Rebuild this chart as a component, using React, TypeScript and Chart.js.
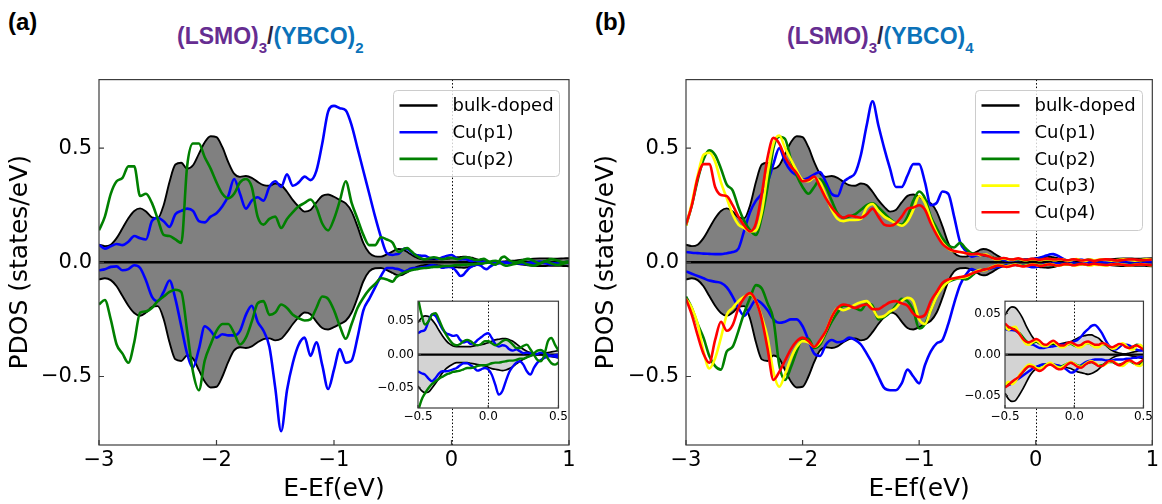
import React, { useEffect, useRef } from "react";
import { Chart, registerables } from "chart.js";
Chart.register(...registerables);

const FONT = "'DejaVu Sans', sans-serif";
const TITLE_FONT = "'Liberation Sans', Arial, sans-serif";
const PURPLE = "#662d91";
const TBLUE = "#0b72b9";

// ---- energy grids (eV) ----
const grid = (start: number, step: number, n: number) =>
  Array.from({ length: n }, (_, i) => Math.round((start + i * step) * 1000) / 1000);
const E_MAIN = grid(-3, 0.05, 50); // -3.00 .. -0.55
const E_INSET = grid(-0.5, 0.025, 41); // -0.50 .. 0.50
const E_TAIL = grid(0.55, 0.05, 10); // 0.55 .. 1.00

// ---- tick values ----
const X_TICKS_MAIN = [-3, -2, -1, 0, 1];
const Y_TICKS_MAIN = [-0.5, 0, 0.5];
const X_TICKS_INSET = [-0.5, 0, 0.5];
const Y_TICKS_INSET = [-0.05, 0, 0.05];

// ---- bulk-doped (shared by both panels) ----
const BULK_UP = [0.077, 0.071, 0.077, 0.106, 0.149, 0.193, 0.225, 0.236, 0.222, 0.197,
  0.193, 0.25, 0.352, 0.428, 0.436, 0.41, 0.425, 0.475, 0.526, 0.552,
  0.548, 0.504, 0.439, 0.388, 0.374, 0.378, 0.37, 0.352, 0.338, 0.335,
  0.345, 0.338, 0.309, 0.272, 0.243, 0.222, 0.229, 0.262, 0.291, 0.297,
  0.287, 0.272, 0.258, 0.222, 0.157, 0.084, 0.041, 0.026, 0.025, 0.035];
const BULK_DN = [-0.075, -0.07, -0.078, -0.105, -0.148, -0.19, -0.222, -0.234, -0.22, -0.196,
  -0.192, -0.248, -0.35, -0.425, -0.432, -0.408, -0.422, -0.472, -0.522, -0.548,
  -0.545, -0.5, -0.436, -0.386, -0.372, -0.375, -0.368, -0.35, -0.336, -0.333,
  -0.342, -0.335, -0.306, -0.27, -0.24, -0.22, -0.227, -0.26, -0.288, -0.294,
  -0.284, -0.27, -0.256, -0.22, -0.155, -0.083, -0.04, -0.026, -0.025, -0.034];
const BULK_UP_INS = [0.048, 0.055, 0.058, 0.057, 0.052, 0.045, 0.036, 0.028, 0.021, 0.016,
  0.013, 0.012, 0.012, 0.012, 0.012, 0.012, 0.013, 0.014, 0.015, 0.016,
  0.018, 0.02, 0.022, 0.023, 0.024, 0.024, 0.022, 0.02, 0.016, 0.012,
  0.008, 0.005, 0.003, 0.002, 0.001, 0.001, 0.002, 0.003, 0.004, 0.005, 0.006];
const BULK_DN_INS = [-0.047, -0.054, -0.057, -0.056, -0.05, -0.043, -0.035, -0.027, -0.021, -0.017,
  -0.014, -0.012, -0.012, -0.012, -0.012, -0.013, -0.014, -0.015, -0.016, -0.017,
  -0.019, -0.021, -0.022, -0.023, -0.024, -0.023, -0.021, -0.018, -0.014, -0.01,
  -0.007, -0.004, -0.002, -0.001, 0.0, 0.0, -0.001, -0.002, -0.003, -0.004, -0.005];
const BULK_UP_TAIL = [0.008, 0.011, 0.014, 0.016, 0.017, 0.017, 0.016, 0.016, 0.017, 0.018];
const BULK_DN_TAIL = [-0.007, -0.01, -0.013, -0.015, -0.016, -0.016, -0.015, -0.015, -0.016, -0.017];

// ---- panel (a): Cu(p1) ----
const A_P1_UP = [0.077, 0.06, 0.07, 0.08, 0.075, 0.09, 0.115, 0.105, 0.1, 0.18,
  0.195, 0.18, 0.155, 0.21, 0.225, 0.235, 0.225, 0.18, 0.175, 0.2,
  0.215, 0.245, 0.29, 0.365, 0.3, 0.235, 0.27, 0.285, 0.27, 0.33,
  0.355, 0.33, 0.385, 0.335, 0.35, 0.375, 0.36, 0.4, 0.52, 0.66,
  0.685, 0.675, 0.665, 0.6, 0.5, 0.4, 0.3, 0.2, 0.11, 0.04];
const A_P1_DN = [-0.035, -0.03, -0.02, -0.018, -0.035, -0.03, -0.013, -0.025, -0.08, -0.15,
  -0.17, -0.13, -0.08, -0.16, -0.28, -0.4, -0.46, -0.38, -0.28, -0.3,
  -0.33, -0.315, -0.32, -0.32, -0.3, -0.23, -0.19, -0.26, -0.3, -0.37,
  -0.55, -0.74, -0.56, -0.44, -0.36, -0.33, -0.41, -0.35, -0.45, -0.555,
  -0.47, -0.38, -0.44, -0.43, -0.33, -0.21, -0.16, -0.11, -0.06, -0.025];
const A_P1_UP_INS = [0.032, 0.035, 0.037, 0.05, 0.06, 0.058, 0.048, 0.038, 0.032, 0.03,
  0.028, 0.029, 0.022, 0.018, 0.02, 0.016, 0.017, 0.022, 0.026, 0.03,
  0.032, 0.025, 0.016, 0.012, 0.014, 0.013, 0.008, 0.006, 0.008, 0.005,
  0.002, 0.003, 0.002, 0.0, 0.001, 0.003, 0.002, 0.0, -0.002, -0.003, -0.004];
const A_P1_DN_INS = [-0.025, -0.028, -0.03, -0.036, -0.04, -0.035, -0.028, -0.025, -0.025, -0.024,
  -0.022, -0.02, -0.016, -0.013, -0.013, -0.016, -0.02, -0.024, -0.022, -0.02,
  -0.022, -0.03, -0.045, -0.06, -0.055, -0.04, -0.026, -0.018, -0.012, -0.01,
  -0.015, -0.025, -0.03, -0.02, -0.012, -0.008, -0.005, -0.003, -0.002, -0.001, 0.0];
const A_P1_UP_TAIL = [-0.004, -0.006, -0.003, 0.001, 0.003, 0.001, -0.003, -0.005, -0.001, 0.003];
const A_P1_DN_TAIL = [0.0, -0.004, -0.009, -0.006, -0.002, -0.004, -0.009, -0.006, -0.002, -0.003];

// ---- panel (a): Cu(p2) ----
const A_P2_UP = [0.14, 0.2, 0.3, 0.355, 0.37, 0.42, 0.42, 0.29, 0.3, 0.26,
  0.19, 0.12, 0.115, 0.1, 0.085, 0.42, 0.52, 0.52, 0.46, 0.41,
  0.35, 0.3, 0.28, 0.3, 0.35, 0.365, 0.33, 0.2, 0.165, 0.19,
  0.2, 0.15, 0.19, 0.22, 0.245, 0.26, 0.275, 0.24, 0.17, 0.14,
  0.19, 0.27, 0.355, 0.26, 0.19, 0.12, 0.075, 0.075, 0.11, 0.1];
const A_P2_DN = [-0.185, -0.165, -0.25, -0.36, -0.4, -0.44, -0.35, -0.22, -0.215, -0.2,
  -0.17, -0.15, -0.13, -0.12, -0.13, -0.3, -0.48, -0.56, -0.43, -0.36,
  -0.3, -0.27, -0.27, -0.31, -0.36, -0.33, -0.26, -0.18, -0.17, -0.23,
  -0.22, -0.185, -0.2, -0.23, -0.245, -0.255, -0.25, -0.2, -0.15, -0.16,
  -0.21, -0.28, -0.335, -0.27, -0.2, -0.155, -0.12, -0.095, -0.07, -0.075];
const A_P2_UP_INS = [0.085, 0.06, 0.045, 0.05, 0.06, 0.062, 0.052, 0.04, 0.03, 0.022,
  0.016, 0.014, 0.016, 0.02, 0.022, 0.02, 0.016, 0.014, 0.016, 0.02,
  0.02, 0.017, 0.014, 0.016, 0.02, 0.022, 0.02, 0.015, 0.01, 0.01,
  0.013, 0.015, 0.008, 0.0, -0.008, -0.01, 0.0, 0.02, 0.025, 0.015, 0.006];
const A_P2_DN_INS = [-0.085, -0.068, -0.058, -0.05, -0.044, -0.04, -0.036, -0.033, -0.03, -0.028,
  -0.026, -0.025, -0.024, -0.022, -0.02, -0.02, -0.019, -0.017, -0.016, -0.016,
  -0.015, -0.013, -0.012, -0.012, -0.011, -0.01, -0.009, -0.009, -0.008, -0.006,
  -0.006, -0.004, -0.002, 0.002, 0.006, 0.007, 0.003, -0.006, -0.013, -0.015, -0.012];
const A_P2_UP_TAIL = [0.0, 0.008, 0.015, 0.006, -0.004, 0.005, 0.014, 0.008, 0.0, 0.005];
const A_P2_DN_TAIL = [-0.006, 0.0, -0.01, -0.015, -0.006, 0.004, -0.005, -0.012, -0.006, 0.0];

// ---- panel (b): Cu(p1) ----
const B_P1_UP = [0.045, 0.042, 0.04, 0.038, 0.037, 0.036, 0.036, 0.04, 0.045, 0.06,
  0.14, 0.22, 0.27, 0.3, 0.35, 0.43, 0.5, 0.44, 0.4, 0.38,
  0.36, 0.37, 0.385, 0.395, 0.35, 0.3, 0.29, 0.35, 0.37, 0.39,
  0.47, 0.6, 0.705, 0.6, 0.5, 0.41, 0.33, 0.33, 0.38, 0.43,
  0.43, 0.35, 0.25, 0.26, 0.31, 0.3, 0.2, 0.09, 0.05, 0.025];
const B_P1_DN = [-0.04, -0.05, -0.06, -0.07, -0.08, -0.085, -0.09, -0.11, -0.15, -0.2,
  -0.235, -0.2, -0.165, -0.18, -0.21, -0.25, -0.265, -0.26, -0.25, -0.25,
  -0.28, -0.34, -0.4, -0.41, -0.36, -0.34, -0.35, -0.345, -0.33, -0.34,
  -0.36, -0.4, -0.445, -0.5, -0.55, -0.56, -0.56, -0.53, -0.47, -0.5,
  -0.53, -0.45, -0.39, -0.355, -0.34, -0.27, -0.18, -0.1, -0.055, -0.03];
const B_P1_UP_INS = [0.031, 0.03, 0.03, 0.029, 0.026, 0.021, 0.016, 0.013, 0.012, 0.01,
  0.008, 0.008, 0.009, 0.0095, 0.01, 0.011, 0.012, 0.012, 0.013, 0.014,
  0.016, 0.018, 0.022, 0.027, 0.031, 0.035, 0.036, 0.032, 0.026, 0.018,
  0.011, 0.007, 0.006, 0.009, 0.012, 0.012, 0.011, 0.008, 0.006, 0.005, 0.005];
const B_P1_DN_INS = [-0.038, -0.037, -0.035, -0.032, -0.029, -0.026, -0.023, -0.02, -0.017, -0.015,
  -0.013, -0.012, -0.012, -0.012, -0.012, -0.013, -0.014, -0.016, -0.019, -0.022,
  -0.021, -0.017, -0.013, -0.01, -0.008, -0.007, -0.006, -0.006, -0.006, -0.007,
  -0.007, -0.007, -0.006, -0.006, -0.006, -0.005, -0.005, -0.004, -0.004, -0.003, -0.003];
const B_P1_UP_TAIL = [0.005, 0.006, 0.006, 0.005, 0.006, 0.007, 0.006, 0.005, 0.006, 0.006];
const B_P1_DN_TAIL = [-0.003, -0.004, -0.005, -0.004, -0.005, -0.006, -0.005, -0.004, -0.005, -0.006];

// ---- panel (b): Cu(p2) ----
const B_P2_UP = [0.16, 0.25, 0.36, 0.45, 0.49, 0.47, 0.41, 0.34, 0.315, 0.24,
  0.18, 0.14, 0.12, 0.2, 0.33, 0.5, 0.55, 0.54, 0.45, 0.38,
  0.33, 0.3, 0.33, 0.365, 0.33, 0.27, 0.215, 0.195, 0.2, 0.21,
  0.23, 0.25, 0.258, 0.24, 0.215, 0.19, 0.17, 0.165, 0.2, 0.27,
  0.31, 0.28, 0.2, 0.15, 0.105, 0.075, 0.065, 0.085, 0.06, 0.04];
const B_P2_DN = [-0.15, -0.2, -0.27, -0.33, -0.41, -0.455, -0.47, -0.39, -0.37, -0.3,
  -0.22, -0.155, -0.1, -0.115, -0.18, -0.25, -0.45, -0.515, -0.46, -0.39,
  -0.335, -0.335, -0.375, -0.36, -0.31, -0.26, -0.22, -0.19, -0.19, -0.2,
  -0.21, -0.18, -0.19, -0.25, -0.24, -0.22, -0.19, -0.16, -0.17, -0.21,
  -0.29, -0.27, -0.21, -0.15, -0.1, -0.085, -0.075, -0.07, -0.075, -0.06];
const B_P2_UP_INS = [0.036, 0.033, 0.032, 0.03, 0.027, 0.022, 0.017, 0.014, 0.014, 0.016,
  0.015, 0.012, 0.011, 0.013, 0.014, 0.012, 0.01, 0.01, 0.012, 0.013,
  0.011, 0.01, 0.011, 0.013, 0.014, 0.012, 0.01, 0.011, 0.013, 0.012,
  0.009, 0.008, 0.01, 0.012, 0.013, 0.01, 0.008, 0.009, 0.012, 0.011, 0.007];
const B_P2_DN_INS = [-0.039, -0.036, -0.034, -0.031, -0.027, -0.022, -0.017, -0.014, -0.014, -0.016,
  -0.017, -0.015, -0.012, -0.011, -0.013, -0.015, -0.015, -0.013, -0.011, -0.01,
  -0.011, -0.013, -0.014, -0.012, -0.01, -0.009, -0.011, -0.013, -0.013, -0.011,
  -0.009, -0.009, -0.011, -0.012, -0.011, -0.009, -0.008, -0.01, -0.012, -0.011, -0.008];
const B_P2_UP_TAIL = [0.01, 0.012, 0.009, 0.008, 0.011, 0.012, 0.009, 0.008, 0.011, 0.012];
const B_P2_DN_TAIL = [-0.01, -0.012, -0.009, -0.008, -0.011, -0.012, -0.009, -0.008, -0.011, -0.012];

// ---- panel (b): Cu(p3) ----
const B_P3_UP = [0.16, 0.26, 0.38, 0.47, 0.48, 0.44, 0.35, 0.28, 0.21, 0.165,
  0.15, 0.135, 0.14, 0.22, 0.39, 0.52, 0.555, 0.5, 0.45, 0.4,
  0.36, 0.355, 0.37, 0.35, 0.29, 0.23, 0.19, 0.18, 0.185, 0.185,
  0.19, 0.24, 0.255, 0.225, 0.2, 0.185, 0.17, 0.16, 0.18, 0.23,
  0.29, 0.26, 0.19, 0.13, 0.085, 0.06, 0.048, 0.045, 0.04, 0.035];
const B_P3_DN = [-0.16, -0.2, -0.27, -0.39, -0.465, -0.42, -0.33, -0.23, -0.2, -0.17,
  -0.15, -0.14, -0.17, -0.24, -0.33, -0.48, -0.545, -0.49, -0.42, -0.37,
  -0.345, -0.35, -0.37, -0.35, -0.3, -0.24, -0.2, -0.21, -0.2, -0.185,
  -0.175, -0.17, -0.2, -0.24, -0.235, -0.215, -0.2, -0.17, -0.155, -0.17,
  -0.25, -0.27, -0.21, -0.15, -0.11, -0.085, -0.07, -0.068, -0.065, -0.05];
const B_P3_UP_INS = [0.035, 0.03, 0.033, 0.034, 0.027, 0.019, 0.013, 0.012, 0.015, 0.017,
  0.014, 0.01, 0.01, 0.013, 0.015, 0.012, 0.009, 0.009, 0.012, 0.014,
  0.012, 0.009, 0.009, 0.012, 0.014, 0.012, 0.009, 0.009, 0.012, 0.013,
  0.01, 0.007, 0.008, 0.012, 0.014, 0.011, 0.007, 0.006, 0.01, 0.012, 0.008];
const B_P3_DN_INS = [-0.037, -0.033, -0.036, -0.033, -0.026, -0.02, -0.015, -0.012, -0.013, -0.016,
  -0.017, -0.015, -0.012, -0.01, -0.012, -0.015, -0.016, -0.014, -0.011, -0.009,
  -0.011, -0.014, -0.015, -0.012, -0.009, -0.008, -0.01, -0.013, -0.014, -0.012,
  -0.009, -0.008, -0.01, -0.013, -0.014, -0.011, -0.008, -0.009, -0.013, -0.014, -0.01];
const B_P3_UP_TAIL = [0.012, 0.01, 0.007, 0.01, 0.013, 0.01, 0.007, 0.01, 0.013, 0.011];
const B_P3_DN_TAIL = [-0.012, -0.014, -0.01, -0.007, -0.01, -0.013, -0.011, -0.008, -0.011, -0.013];

// ---- panel (b): Cu(p4) ----
const B_P4_UP = [0.165, 0.25, 0.37, 0.43, 0.43, 0.33, 0.295, 0.29, 0.25, 0.2,
  0.16, 0.135, 0.17, 0.3, 0.46, 0.545, 0.52, 0.46, 0.42, 0.39,
  0.355, 0.36, 0.375, 0.33, 0.28, 0.24, 0.21, 0.195, 0.205, 0.2,
  0.195, 0.21, 0.235, 0.2, 0.165, 0.16, 0.17, 0.2, 0.235, 0.24,
  0.25, 0.23, 0.17, 0.12, 0.08, 0.06, 0.05, 0.045, 0.04, 0.035];
const B_P4_DN = [-0.16, -0.23, -0.32, -0.4, -0.44, -0.34, -0.26, -0.3, -0.275, -0.2,
  -0.155, -0.135, -0.17, -0.25, -0.38, -0.515, -0.48, -0.43, -0.38, -0.345,
  -0.33, -0.345, -0.37, -0.34, -0.3, -0.24, -0.2, -0.185, -0.19, -0.2,
  -0.19, -0.185, -0.205, -0.205, -0.19, -0.175, -0.17, -0.18, -0.19, -0.225,
  -0.24, -0.23, -0.17, -0.13, -0.09, -0.075, -0.07, -0.065, -0.06, -0.05];
const B_P4_UP_INS = [0.038, 0.034, 0.032, 0.03, 0.026, 0.02, 0.016, 0.015, 0.017, 0.019,
  0.017, 0.013, 0.012, 0.015, 0.017, 0.014, 0.011, 0.011, 0.014, 0.015,
  0.013, 0.011, 0.012, 0.015, 0.016, 0.014, 0.012, 0.012, 0.014, 0.013,
  0.01, 0.009, 0.011, 0.013, 0.012, 0.009, 0.008, 0.01, 0.011, 0.009, 0.006];
const B_P4_DN_INS = [-0.04, -0.037, -0.033, -0.03, -0.027, -0.022, -0.017, -0.014, -0.015, -0.018,
  -0.02, -0.018, -0.014, -0.012, -0.014, -0.017, -0.018, -0.016, -0.012, -0.01,
  -0.012, -0.015, -0.016, -0.013, -0.01, -0.009, -0.011, -0.014, -0.014, -0.011,
  -0.008, -0.008, -0.011, -0.013, -0.011, -0.008, -0.007, -0.009, -0.011, -0.009, -0.006];
const B_P4_UP_TAIL = [0.011, 0.013, 0.011, 0.008, 0.01, 0.013, 0.012, 0.009, 0.01, 0.012];
const B_P4_DN_TAIL = [-0.01, -0.012, -0.01, -0.008, -0.011, -0.013, -0.011, -0.009, -0.011, -0.012];

type Curve = {
  label: string; color: string;
  up: number[]; upIns: number[]; upTail: number[];
  dn: number[]; dnIns: number[]; dnTail: number[];
};

const BULK: Curve = { label: "bulk-doped", color: "#000000", up: BULK_UP, upIns: BULK_UP_INS, upTail: BULK_UP_TAIL, dn: BULK_DN, dnIns: BULK_DN_INS, dnTail: BULK_DN_TAIL };
const CURVES_A: Curve[] = [
  BULK,
  { label: "Cu(p1)", color: "#0000ff", up: A_P1_UP, upIns: A_P1_UP_INS, upTail: A_P1_UP_TAIL, dn: A_P1_DN, dnIns: A_P1_DN_INS, dnTail: A_P1_DN_TAIL },
  { label: "Cu(p2)", color: "#008000", up: A_P2_UP, upIns: A_P2_UP_INS, upTail: A_P2_UP_TAIL, dn: A_P2_DN, dnIns: A_P2_DN_INS, dnTail: A_P2_DN_TAIL },
];
const CURVES_B: Curve[] = [
  BULK,
  { label: "Cu(p1)", color: "#0000ff", up: B_P1_UP, upIns: B_P1_UP_INS, upTail: B_P1_UP_TAIL, dn: B_P1_DN, dnIns: B_P1_DN_INS, dnTail: B_P1_DN_TAIL },
  { label: "Cu(p2)", color: "#008000", up: B_P2_UP, upIns: B_P2_UP_INS, upTail: B_P2_UP_TAIL, dn: B_P2_DN, dnIns: B_P2_DN_INS, dnTail: B_P2_DN_TAIL },
  { label: "Cu(p3)", color: "#ffff00", up: B_P3_UP, upIns: B_P3_UP_INS, upTail: B_P3_UP_TAIL, dn: B_P3_DN, dnIns: B_P3_DN_INS, dnTail: B_P3_DN_TAIL },
  { label: "Cu(p4)", color: "#ff0000", up: B_P4_UP, upIns: B_P4_UP_INS, upTail: B_P4_UP_TAIL, dn: B_P4_DN, dnIns: B_P4_DN_INS, dnTail: B_P4_DN_TAIL },
];

const toPts = (xs: number[], ys: number[]) => xs.map((x, i) => ({ x, y: ys[i] }));
const fullPts = (m: number[], ins: number[], tail: number[]) =>
  [...toPts(E_MAIN, m), ...toPts(E_INSET, ins), ...toPts(E_TAIL, tail)];

const fmt = (v: number, d: number) => (v < -1e-9 ? "\u2212" : "") + Math.abs(v).toFixed(d);

function lineDs(data: any[], color: string, width: number, order: number, fillColor?: string) {
  return {
    data,
    borderColor: color,
    borderWidth: width,
    pointRadius: 0,
    pointHoverRadius: 0,
    cubicInterpolationMode: "monotone",
    fill: fillColor ? "origin" : false,
    backgroundColor: fillColor || "transparent",
    order,
    clip: 0,
  };
}

type DecoOpts = { tickLen: number; bg: boolean; legend?: { items: Curve[]; w: number; h: number } };

function makeDeco(o: DecoOpts) {
  return {
    id: "deco",
    beforeDraw(chart: any) {
      if (!o.bg) return;
      const { ctx, chartArea: a } = chart;
      ctx.save();
      ctx.fillStyle = "#ffffff";
      ctx.fillRect(a.left, a.top, a.right - a.left, a.bottom - a.top);
      ctx.restore();
    },
    beforeDatasetsDraw(chart: any) {
      const { ctx, chartArea: a, scales } = chart;
      const px = Math.round(scales.x.getPixelForValue(0)) + 0.5;
      ctx.save();
      ctx.strokeStyle = "#000";
      ctx.lineWidth = 1;
      ctx.setLineDash([1.5, 2]);
      ctx.beginPath();
      ctx.moveTo(px, a.top);
      ctx.lineTo(px, a.bottom);
      ctx.stroke();
      ctx.restore();
    },
    afterDraw(chart: any) {
      const { ctx, chartArea: a, scales } = chart;
      ctx.save();
      ctx.strokeStyle = "#3c3c3c";
      ctx.lineWidth = 1.2;
      ctx.beginPath();
      scales.x.ticks.forEach((t: any) => {
        const p = scales.x.getPixelForValue(t.value);
        ctx.moveTo(p, a.bottom);
        ctx.lineTo(p, a.bottom - o.tickLen);
      });
      scales.y.ticks.forEach((t: any) => {
        const p = scales.y.getPixelForValue(t.value);
        ctx.moveTo(a.left, p);
        ctx.lineTo(a.left + o.tickLen, p);
      });
      ctx.stroke();
      ctx.strokeRect(a.left, a.top, a.right - a.left, a.bottom - a.top);
      const L = o.legend;
      if (L) {
        const x0 = Math.round(a.right - 10 - L.w) + 0.5;
        const y0 = Math.round(a.top + 10) + 0.5;
        ctx.beginPath();
        if ((ctx as any).roundRect) (ctx as any).roundRect(x0, y0, L.w, L.h, 4);
        else ctx.rect(x0, y0, L.w, L.h);
        ctx.fillStyle = "rgba(255,255,255,0.8)";
        ctx.fill();
        ctx.strokeStyle = "#cccccc";
        ctx.lineWidth = 1;
        ctx.stroke();
        ctx.font = `18px ${FONT}`;
        ctx.textBaseline = "middle";
        ctx.textAlign = "left";
        L.items.forEach((it, i) => {
          const y = y0 + 15 + i * 26.7;
          ctx.strokeStyle = it.color;
          ctx.lineWidth = 2.6;
          ctx.beginPath();
          ctx.moveTo(x0 + 6, y);
          ctx.lineTo(x0 + 44, y);
          ctx.stroke();
          ctx.fillStyle = "#000";
          ctx.fillText(it.label, x0 + 59, y + 1);
        });
      }
      ctx.restore();
    },
  };
}

type Cfg = { curves: Curve[]; inset: boolean; yW: number; padR: number; ymax: number; legendW?: number; legendH?: number };

function makeChart(canvas: HTMLCanvasElement, c: Cfg) {
  const inset = c.inset;
  const get = (cv: Curve, up: boolean) =>
    inset ? toPts(E_INSET, up ? cv.upIns : cv.dnIns) : up ? fullPts(cv.up, cv.upIns, cv.upTail) : fullPts(cv.dn, cv.dnIns, cv.dnTail);
  const bulk = c.curves[0];
  const fillColor = inset ? "#d3d3d3" : "#808080";
  const lw = inset ? 2.4 : 2.6;
  const datasets: any[] = [
    lineDs(get(bulk, true), "#000", inset ? 1.7 : 1.9, 30, fillColor),
    lineDs(get(bulk, false), "#000", inset ? 1.7 : 1.9, 30, fillColor),
    lineDs([{ x: inset ? -0.5 : -3, y: 0 }, { x: inset ? 0.5 : 1, y: 0 }], "#000", inset ? 2.4 : 2.4, 25),
  ];
  c.curves.slice(1).forEach((cv, k) => {
    datasets.push(lineDs(get(cv, true), cv.color, lw, 20 - k));
    datasets.push(lineDs(get(cv, false), cv.color, lw, 20 - k));
  });
  const tickFont = { family: FONT, size: inset ? 12 : 21 };
  const deco = makeDeco({
    tickLen: inset ? 3 : 5,
    bg: inset,
    legend: inset ? undefined : { items: c.curves, w: c.legendW!, h: c.legendH! },
  });
  return new Chart(canvas, {
    type: "line",
    data: { datasets },
    plugins: [deco as any],
    options: {
      responsive: false,
      animation: false,
      devicePixelRatio: 1,
      events: [],
      layout: { padding: { left: 0, right: c.padR, top: inset ? 8 : 17, bottom: 0 } },
      plugins: { legend: { display: false }, tooltip: { enabled: false } },
      scales: {
        x: {
          type: "linear",
          min: inset ? -0.5 : -3,
          max: inset ? 0.5 : 1,
          afterBuildTicks: (s: any) => {
            s.ticks = (inset ? X_TICKS_INSET : X_TICKS_MAIN).map((v) => ({ value: v }));
          },
          afterFit: (s: any) => {
            s.height = inset ? 22 : 59;
          },
          grid: { display: false, drawTicks: false },
          border: { display: false },
          ticks: {
            font: tickFont,
            color: "#000",
            padding: inset ? 2 : 3,
            maxRotation: 0,
            autoSkip: false,
            callback: (v: any) => fmt(Number(v), inset ? 1 : 0),
          },
          title: inset
            ? { display: false }
            : { display: true, text: "E-Ef(eV)", font: { family: FONT, size: 25 }, color: "#000", padding: { top: 1, bottom: 0 } },
        },
        y: {
          type: "linear",
          min: -c.ymax,
          max: c.ymax,
          afterBuildTicks: (s: any) => {
            s.ticks = (inset ? Y_TICKS_INSET : Y_TICKS_MAIN).map((v) => ({ value: v }));
          },
          afterFit: (s: any) => {
            s.width = c.yW;
          },
          grid: { display: false, drawTicks: false },
          border: { display: false },
          ticks: {
            font: tickFont,
            color: "#000",
            padding: inset ? 4 : 7,
            autoSkip: false,
            callback: (v: any) => fmt(Number(v), inset ? 2 : 1),
          },
          title: inset
            ? { display: false }
            : { display: true, text: "PDOS (states/eV)", font: { family: FONT, size: 25 }, color: "#000", padding: { top: 5, bottom: 0 } },
        },
      },
    } as any,
  });
}

const subStyle = (color: string): React.CSSProperties => ({ color, fontSize: 15, position: "relative", top: 9 });

function Title({ left, n }: { left: number; n: string }) {
  return (
    <div style={{ position: "absolute", left, top: 24, font: `bold 23px ${TITLE_FONT}`, lineHeight: "24px", whiteSpace: "nowrap" }}>
      <span style={{ color: PURPLE }}>(LSMO)</span>
      <span style={subStyle(PURPLE)}>3</span>
      <span style={{ color: "#2a1f3d" }}>/</span>
      <span style={{ color: TBLUE }}>(YBCO)</span>
      <span style={subStyle(TBLUE)}>{n}</span>
    </div>
  );
}

export default function App() {
  const aMain = useRef<HTMLCanvasElement>(null);
  const aIns = useRef<HTMLCanvasElement>(null);
  const bMain = useRef<HTMLCanvasElement>(null);
  const bIns = useRef<HTMLCanvasElement>(null);

  useEffect(() => {
    const charts = [
      makeChart(aMain.current!, { curves: CURVES_A, inset: false, yW: 99, padR: 11, ymax: 0.8, legendW: 166, legendH: 86 }),
      makeChart(aIns.current!, { curves: CURVES_A, inset: true, yW: 58, padR: 11, ymax: 0.08 }),
      makeChart(bMain.current!, { curves: CURVES_B, inset: false, yW: 100, padR: 7, ymax: 0.8, legendW: 167, legendH: 140 }),
      makeChart(bIns.current!, { curves: CURVES_B, inset: true, yW: 60, padR: 9, ymax: 0.065 }),
    ];
    return () => charts.forEach((ch) => ch.destroy());
  }, []);

  const cv = (left: number, top: number, w: number, h: number): React.CSSProperties => ({
    position: "absolute", left, top, width: w, height: h,
  });

  return (
    <div style={{ position: "fixed", left: 0, top: 0, width: 1162, height: 504, background: "#fff", overflow: "hidden" }}>
      <div style={{ position: "absolute", left: 8, top: 10, font: `bold 24px ${TITLE_FONT}`, lineHeight: "24px", color: "#000" }}>(a)</div>
      <div style={{ position: "absolute", left: 595, top: 10, font: `bold 24px ${TITLE_FONT}`, lineHeight: "24px", color: "#000" }}>(b)</div>
      <Title left={177} n="2" />
      <Title left={787} n="4" />
      <canvas ref={aMain} width={580} height={444} style={cv(0, 60, 580, 444)} />
      <canvas ref={bMain} width={576} height={444} style={cv(586, 60, 576, 444)} />
      <canvas ref={aIns} width={210} height={140} style={cv(360, 290, 210, 140)} />
      <canvas ref={bIns} width={210} height={140} style={cv(945, 290, 210, 140)} />
    </div>
  );
}
